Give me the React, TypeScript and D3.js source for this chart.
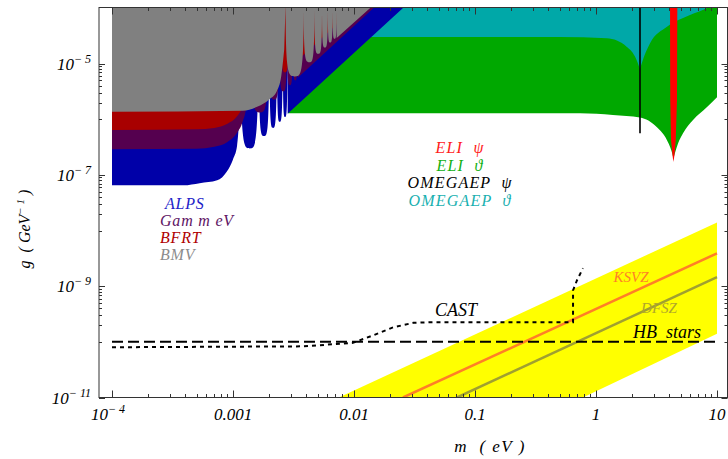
import React, { useEffect, useRef } from "react";
import * as d3 from "d3";

type Pt = [number, number];

// axis ticks
const xTickValues = [1e-4, 1e-3, 1e-2, 0.1, 1, 10];
const xTickText = ["10|− 4", "0.001", "0.01", "0.1", "1", "10"];
const yTickValues = [1e-5, 1e-7, 1e-9, 1e-11];
const yTickText = ["10|− 5", "10|− 7", "10|− 9", "10|− 11"];

// lab experiments: flat part + knee, spike masses, lobe bottoms, envelope (m eV, g GeV^-1)
const alpsKnee: Pt[] = [[1e-4, 6.5e-8], [3.9e-4, 6.5e-8], [5.3e-4, 7.1e-8], [7.4e-4, 8.0e-8], [8.9e-4, 1.15e-7], [1.0e-3, 1.9e-7], [1.08e-3, 3.3e-7], [1.13e-3, 1.1e-6]];
const alpsSpikes = [1.15e-3, 1.63e-3, 2.0e-3, 2.31e-3, 2.58e-3, 2.83e-3];
const alpsDips: Pt[] = [[1.38e-3, 3.0e-7], [1.81e-3, 5.0e-7], [2.15e-3, 7.0e-7], [2.44e-3, 9.0e-7], [2.7e-3, 1.1e-6]];
const alpsEnvelope: Pt[] = [[2.83e-3, 1.26e-6], [0.0254, 1e-4]];

const gammevKnee: Pt[] = [[1e-4, 2.9e-7], [5e-4, 2.95e-7], [7e-4, 3.2e-7], [9e-4, 3.9e-7], [1.08e-3, 5.7e-7], [1.2e-3, 9e-7], [1.3e-3, 1.9e-6], [1.37e-3, 6.6e-6]];
const gammevSpikes = [1.4e-3, 1.98e-3, 2.42e-3, 2.8e-3, 3.13e-3, 3.43e-3];
const gammevDips: Pt[] = [[1.67e-3, 1.33e-6], [2.2e-3, 2.26e-6], [2.61e-3, 3.18e-6], [2.96e-3, 4.1e-6], [3.28e-3, 5.0e-6]];
const gammevEnvelope: Pt[] = [[3.43e-3, 5.6e-6], [0.0145, 1e-4]];

const bfrtKnee: Pt[] = [[1e-4, 6.4e-7], [5e-4, 6.6e-7], [7e-4, 7.0e-7], [9e-4, 8.3e-7], [1.08e-3, 1.13e-6], [1.2e-3, 1.65e-6], [1.3e-3, 2.8e-6], [1.4e-3, 8.9e-6]];
const bfrtSpikes = [1.45e-3, 2.05e-3, 2.51e-3, 2.9e-3, 3.24e-3, 3.55e-3];
const bfrtDips: Pt[] = [[1.73e-3, 2.94e-6], [2.27e-3, 5.0e-6], [2.7e-3, 7.0e-6], [3.07e-3, 9.0e-6], [3.39e-3, 1.1e-5]];
const bfrtEnvelope: Pt[] = [[3.55e-3, 1.24e-5], [0.0101, 1e-4]];

const bmvKnee: Pt[] = [[1e-4, 1.36e-6], [1.2e-3, 1.42e-6], [1.6e-3, 1.7e-6], [2.0e-3, 2.3e-6], [2.3e-3, 3.2e-6], [2.5e-3, 5.8e-6], [2.65e-3, 1.8e-5]];
const bmvSpikes = [2.72e-3, 3.84e-3, 4.71e-3, 5.44e-3, 6.08e-3, 6.66e-3, 7.19e-3];
const bmvDips: Pt[] = [[3.25e-3, 5.9e-6], [4.3e-3, 1.06e-5], [5.07e-3, 1.5e-5], [5.75e-3, 1.95e-5], [6.36e-3, 2.4e-5], [6.93e-3, 2.8e-5]];
const bmvEnvelope: Pt[] = [[7.19e-3, 2.9e-5], [0.0136, 1e-4]];

// laser-plasma proposals
const eliThetaLeft: Pt[] = [[2.85e-3, 1.29e-6], [0.1, 1.29e-6], [0.74, 1.28e-6], [1.38, 1.2e-6], [2.31, 1.08e-6], [3.19, 7.2e-7], [3.86, 4.2e-7], [4.25, 2.5e-7], [4.36, 2.0e-7]];
const eliThetaRight: Pt[] = [[4.36, 2.0e-7], [4.5, 2.5e-7], [4.77, 3.7e-7], [5.24, 5.6e-7], [6.34, 9.7e-7], [8.27, 1.66e-6], [10, 2.5e-6]];
const omegaThetaLeft: Pt[] = [[0.012, 3.0e-5], [0.5, 3.0e-5], [1.23, 2.85e-5], [1.8, 2.0e-5], [2.1, 1.35e-5], [2.31, 8.0e-6]];
const omegaThetaRight: Pt[] = [[2.31, 8.0e-6], [2.4, 1.05e-5], [2.79, 2.3e-5], [3.86, 4.6e-5], [5.98, 7.5e-5], [8.27, 1e-4], [10, 1.3e-4]];
const omegaPsi: Pt[] = [[2.31, 1.2e-4], [2.31, 5.6e-7]];
const eliPsi: Pt[] = [[4.09, 1.2e-4], [4.11, 2.2e-6], [4.17, 4.2e-7], [4.29, 2.26e-7], [4.36, 1.7e-7], [4.45, 2.26e-7], [4.56, 4.2e-7], [4.67, 2.2e-6], [4.7, 1.2e-4]];

// axion models, astrophysics, CAST
const bandUpper: Pt[] = [[0.0075, 1e-11], [10, 1.4e-8]];
const bandLower: Pt[] = [[10, 1.4e-10], [0.78, 1e-11]];
const ksvz: Pt[] = [[0.0254, 1e-11], [10, 3.9e-9]];
const dfsz: Pt[] = [[0.071, 1e-11], [10, 1.45e-9]];
const hbStars: Pt[] = [[1e-4, 1e-10], [10, 1e-10]];
const cast: Pt[] = [[1e-4, 8.0e-11], [3.8e-3, 8.3e-11], [9.8e-3, 9.6e-11], [0.0144, 1.31e-10], [0.021, 1.82e-10], [0.031, 2.2e-10], [0.045, 2.26e-10], [0.646, 2.26e-10], [0.646, 8.4e-10], [0.697, 1.28e-9], [0.78, 2.1e-9]];

// legends
const labNames = ["ALPS", "Gam m eV", "BFRT", "BMV"];
const labColors = ["#2222c8", "#5e1464", "#b00000", "#8c8c8c"];
const laserNames = ["ELI  ψ", "ELI  ϑ", "OMEGAEP  ψ", "OMEGAEP  ϑ"];
const laserColors = ["#ff1a1a", "#12b012", "#000000", "#18b0b0"];

const App = () => {
  const svgRef = useRef<SVGSVGElement>(null);

  useEffect(() => {
    const W = 728, H = 459;
    const frame = { left: 99, right: 727.5, top: 7.5, bottom: 397.5 };
    const font = "'Liberation Serif', 'DejaVu Serif', serif";

    const x = d3.scaleLog().domain([1e-4, 10]).range([112, 717]);
    const y = d3.scaleLog().domain([1e-11, 1e-4]).range([397.5, 8]);
    const TOP = y(1e-4) - 4;

    const svg = d3.select(svgRef.current);
    svg.selectAll("*").remove();
    svg.attr("width", W).attr("height", H);

    svg.append("clipPath").attr("id", "plotclip").append("rect")
      .attr("x", frame.left).attr("y", frame.top)
      .attr("width", frame.right - frame.left).attr("height", frame.bottom - frame.top);
    const g = svg.append("g").attr("clip-path", "url(#plotclip)");

    const px = (p: Pt): [number, number] => [x(p[0]), y(p[1])];
    const smooth = d3.line().curve(d3.curveMonotoneX);
    const straight = d3.line();

    // region above a boundary made of monotone pieces, closed along the top
    const regionAbove = (pieces: Pt[][], color: string) => {
      let d = "";
      pieces.forEach((pc, i) => {
        const s = smooth(pc.map(px))!;
        d += i === 0 ? s : "L" + s.slice(1);
      });
      const first = pieces[0][0];
      const lastPiece = pieces[pieces.length - 1];
      const last = lastPiece[lastPiece.length - 1];
      d += `L${x(last[0])},${TOP}L${x(first[0])},${TOP}Z`;
      g.append("path").attr("d", d).attr("fill", color);
    };

    // oscillating exclusion of a light-shining-through-wall / birefringence run
    const labRegion = (knee: Pt[], spikes: number[], dips: Pt[], env: Pt[], color: string) => {
      const k = knee.map(px);
      let d = `M${k[0][0]},${TOP}L` + smooth(k)!.slice(1) + `L${x(spikes[0])},${TOP}Z`;
      dips.forEach((dp, i) => {
        const xa = x(spikes[i]);
        const xb = x(spikes[i + 1]);
        const [xd, yd] = px(dp);
        d += `M${xa},${TOP}C${xa},${yd} ${xa + 0.3 * (xd - xa)},${yd} ${xd},${yd}`;
        d += `C${xb - 0.3 * (xb - xd)},${yd} ${xb},${yd} ${xb},${TOP}Z`;
      });
      const e = env.map(px);
      d += `M${e[0][0]},${TOP}` + e.map((p) => `L${p[0]},${p[1]}`).join("") + `L${e[e.length - 1][0]},${TOP}Z`;
      g.append("path").attr("d", d).attr("fill", color);
    };

    regionAbove([eliThetaLeft, eliThetaRight], "#00a800");
    regionAbove([omegaThetaLeft, omegaThetaRight], "#00a8a8");
    labRegion(alpsKnee, alpsSpikes, alpsDips, alpsEnvelope, "#0000a8");
    labRegion(gammevKnee, gammevSpikes, gammevDips, gammevEnvelope, "#55004f");
    labRegion(bfrtKnee, bfrtSpikes, bfrtDips, bfrtEnvelope, "#a80000");
    labRegion(bmvKnee, bmvSpikes, bmvDips, bmvEnvelope, "#808080");

    g.append("path").attr("d", straight(eliPsi.map(px)) + "Z").attr("fill", "#ff0000");
    g.append("path").attr("d", straight(omegaPsi.map(px))!)
      .attr("stroke", "#000").attr("stroke-width", 1.6).attr("fill", "none");

    // axion band and model lines
    g.append("path").attr("d", straight([...bandUpper, ...bandLower].map(px)) + "Z").attr("fill", "#ffff00");
    g.append("path").attr("d", straight(ksvz.map(px))!)
      .attr("stroke", "#ff7f27").attr("stroke-width", 2.5).attr("fill", "none");
    g.append("path").attr("d", straight(dfsz.map(px))!)
      .attr("stroke", "#a0a030").attr("stroke-width", 2.5).attr("fill", "none");
    g.append("path").attr("d", straight(hbStars.map(px))!)
      .attr("stroke", "#000").attr("stroke-width", 2).attr("stroke-dasharray", "11,5").attr("fill", "none");
    g.append("path").attr("d", straight(cast.map(px))!)
      .attr("stroke", "#000").attr("stroke-width", 2).attr("stroke-dasharray", "4,4").attr("fill", "none");

    // labels inside plot
    const label = (txt: string, xx: number, yy: number, color: string, size: number, anchor = "start", ls = 0) =>
      svg.append("text").attr("x", xx).attr("y", yy).attr("fill", color)
        .attr("font-family", font).attr("font-style", "italic").attr("font-size", size)
        .attr("letter-spacing", ls).attr("text-anchor", anchor).style("white-space", "pre").text(txt);

    labNames.forEach((n, i) => label(n, i === 0 ? 165 : 160, 209 + i * 17, labColors[i], 16, "start", 0.8));
    laserNames.forEach((n, i) => label(n, 460, 153 + i * 17.5, laserColors[i], 16, "middle", 1.2));

    label("CAST", 456, 316, "#000", 18, "middle");
    label("KSVZ", 631, 282, "#ff7f27", 15, "middle");
    label("DFSZ", 659, 313, "#b0a62c", 15, "middle");
    label("HB  stars", 667, 338, "#000", 18, "middle");

    // frame
    const axisColor = "#333";
    svg.append("rect").attr("x", frame.left).attr("y", frame.top)
      .attr("width", frame.right - frame.left).attr("height", frame.bottom - frame.top)
      .attr("fill", "none").attr("stroke", axisColor).attr("stroke-width", 1);

    const isPow10 = (v: number) => Math.abs(Math.log10(v) - Math.round(Math.log10(v))) < 1e-6;
    x.ticks().forEach((v) => {
      const len = isPow10(v) ? 7 : 3.5;
      const xx = Math.round(x(v)) + 0.5;
      svg.append("line").attr("x1", xx).attr("x2", xx).attr("y1", frame.bottom).attr("y2", frame.bottom - len)
        .attr("stroke", axisColor);
      svg.append("line").attr("x1", xx).attr("x2", xx).attr("y1", frame.top).attr("y2", frame.top + len)
        .attr("stroke", axisColor);
    });
    y.ticks().filter((v) => v < 1e-4).forEach((v) => {
      const dec = Math.floor(Math.log10(v) + 1e-9);
      const major = isPow10(v) && Math.abs(dec % 2) === 1;
      if (!major && Math.abs(dec % 2) === 1) return;
      const len = major ? 6 : 3;
      const yy = Math.round(y(v)) + 0.5;
      svg.append("line").attr("x1", frame.left).attr("x2", frame.left + len).attr("y1", yy).attr("y2", yy)
        .attr("stroke", axisColor);
      svg.append("line").attr("x1", frame.right).attr("x2", frame.right - len).attr("y1", yy).attr("y2", yy)
        .attr("stroke", axisColor);
    });

    // tick labels
    const tickLabel = (txt: string, xx: number, yy: number, anchor: string) => {
      const [base, sup] = txt.split("|");
      const t = svg.append("text").attr("x", xx).attr("y", yy).attr("text-anchor", anchor)
        .attr("font-family", font).attr("font-style", "italic").attr("font-size", 17).attr("fill", "#000")
        .style("white-space", "pre");
      t.append("tspan").text(base);
      if (sup) t.append("tspan").attr("dy", -7).attr("font-size", 12).text(sup);
    };
    xTickValues.forEach((v, i) => tickLabel(xTickText[i], x(v) - (xTickText[i].includes("|") ? 4 : 0), 420, "middle"));
    yTickValues.forEach((v, i) => tickLabel(yTickText[i], 91, y(v) + 6, "end"));

    // axis titles
    const xt = svg.append("text").attr("x", 490).attr("y", 452).attr("text-anchor", "middle")
      .attr("font-family", font).attr("font-style", "italic").attr("font-size", 17)
      .attr("letter-spacing", 1.5).style("white-space", "pre");
    xt.text("m  ( eV )");
    const yt = svg.append("text").attr("transform", "translate(30,229) rotate(-90)").attr("text-anchor", "middle")
      .attr("font-family", font).attr("font-style", "italic").attr("font-size", 16).style("white-space", "pre");
    yt.append("tspan").text("g  ( GeV");
    yt.append("tspan").attr("dy", -6).attr("font-size", 11).text("− 1");
    yt.append("tspan").attr("dy", 6).text(" )");
  }, []);

  return <svg ref={svgRef} style={{ position: "absolute", left: 0, top: 0, display: "block" }}></svg>;
};

export default App;
